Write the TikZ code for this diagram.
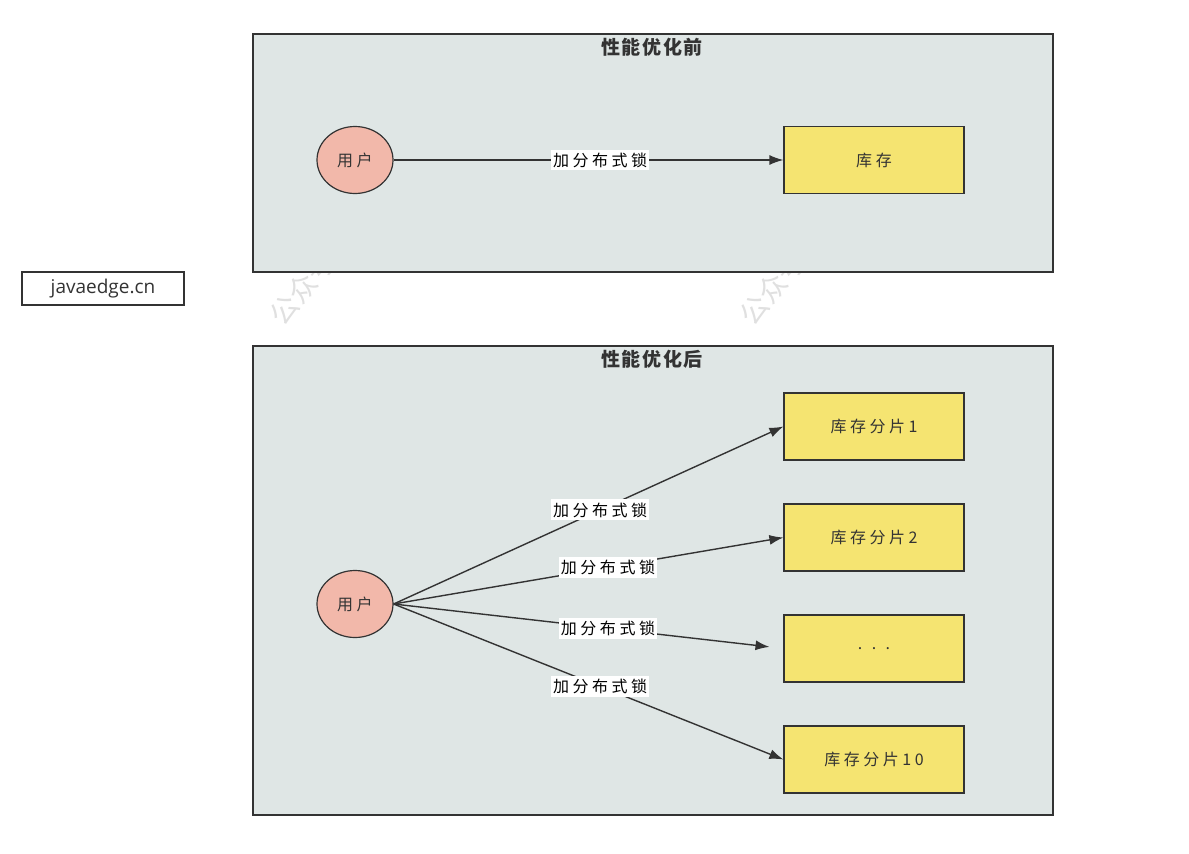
\documentclass[tikz,border=0pt]{standalone}
\usepackage{fontspec}
\setmainfont{Noto Sans CJK SC}
\newfontfamily\spacedcjk[LetterSpace=22]{Noto Sans CJK SC}
\newfontfamily\titlecjk[LetterSpace=8]{Noto Sans CJK SC}
\newfontfamily\latinsans{Open Sans}
\usetikzlibrary{arrows.meta,calc,shapes.geometric}
\definecolor{panelfill}{HTML}{DFE6E5}
\definecolor{edgecol}{HTML}{333333}
\definecolor{userfill}{HTML}{F2B8AA}
\definecolor{stockfill}{HTML}{F5E471}
\definecolor{wmark}{HTML}{E0E0E0}
\tikzset{
  panel/.style={draw=edgecol, fill=panelfill, line width=1.2pt, minimum width=800pt, inner sep=0pt},
  paneltitle/.style={font=\titlecjk\fontsize{19}{21}\selectfont\bfseries, text=edgecol},
  user/.style={ellipse, draw=edgecol, fill=userfill, line width=1.2pt, minimum width=76pt, minimum height=67pt, inner sep=0pt, font=\spacedcjk\fontsize{16}{18}\selectfont, text=edgecol},
  stock/.style={draw=edgecol, fill=stockfill, line width=1.2pt, minimum width=180pt, minimum height=67pt, inner sep=0pt, font=\spacedcjk\fontsize{16}{18}\selectfont, text=edgecol},
  conn/.style={draw=edgecol, line width=1.4pt, -{Latex[length=14pt,width=10pt]}},
  lbl/.style={fill=white, inner xsep=2pt, inner ysep=3pt, font=\spacedcjk\fontsize{16}{18}\selectfont, text=black},
  sitebox/.style={draw=edgecol, fill=white, line width=1.4pt, minimum width=162pt, minimum height=33pt, inner sep=0pt, font=\latinsans\fontsize{19}{21}\selectfont, text=edgecol},
  wm/.style={font=\fontsize{28}{30}\selectfont, text=wmark, rotate=50, inner sep=0pt}
}
\begin{document}
\begin{tikzpicture}[x=1pt,y=-1pt]
\useasboundingbox (0,0) rectangle (1189,854);
\fill[white] (0,0) rectangle (1189,854);
% watermarks (mostly hidden by panels)
\node[wm] (wm1) at (302,288) {公众号};
\node[wm] (wm2) at (772,288) {公众号};
% top panel
\node[panel, minimum height=238pt] (p1) at (653,153) {};
\node[paneltitle] (t1) at (652,47) {性能优化前};
\node[user] (u1) at (355,160) {用户};
\node[stock] (k1) at (874,160) {库存};
\draw[conn] (u1.east) -- node[lbl, pos=0.53] (l0) {加分布式锁} (k1.west);
% site label
\node[sitebox] (site) at (103,288.5) {javaedge.cn};
% bottom panel
\node[panel, minimum height=469pt] (p2) at (653,580.5) {};
\node[paneltitle] (t2) at (652,359) {性能优化后};
\node[user] (u2) at (355,604) {用户};
\node[stock] (s1) at (874,426.5) {库存分片1};
\node[stock] (s2) at (874,537.5) {库存分片2};
\node[stock] (s3) at (874,648.5) {. . .};
\node[stock] (s4) at (874,759.5) {库存分片10};
\draw[conn] (u2.east) -- node[lbl, pos=0.53] (l1) {加分布式锁} (s1.west);
\draw[conn] (u2.east) -- node[lbl, pos=0.55] (l2) {加分布式锁} (s2.west);
\draw[conn, shorten >=14pt] (u2.east) -- node[lbl, pos=0.55] (l3) {加分布式锁} (s3.west);
\draw[conn] (u2.east) -- node[lbl, pos=0.53] (l4) {加分布式锁} (s4.west);
\end{tikzpicture}
\end{document}
